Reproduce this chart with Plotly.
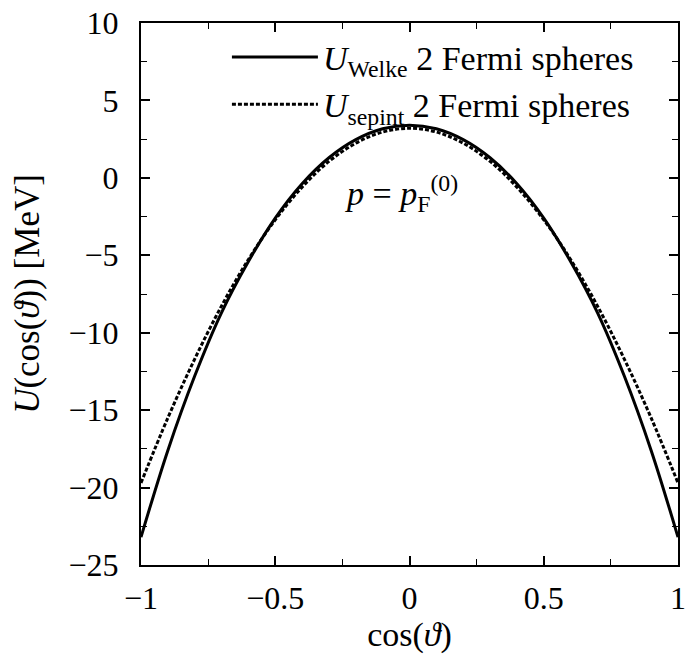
import plotly.graph_objects as go

cos_theta = [-1.0, -0.9, -0.8, -0.7, -0.6, -0.5, -0.4, -0.3, -0.2, -0.1, 0.0,
             0.1, 0.2, 0.3, 0.4, 0.5, 0.6, 0.7, 0.8, 0.9, 1.0]
u_welke = [-23.2, -17.6, -12.8, -8.7, -5.4, -2.6, -0.38, 1.3, 2.47, 3.17, 3.4,
           3.17, 2.47, 1.3, -0.38, -2.6, -5.4, -8.7, -12.8, -17.6, -23.2]
u_sepint = [-19.7, -15.5, -11.7, -8.27, -5.27, -2.71, -0.6, 1.06, 2.24, 2.96, 3.2,
            2.96, 2.24, 1.06, -0.6, -2.71, -5.27, -8.27, -11.7, -15.5, -19.7]

x_ticks = [-1, -0.5, 0, 0.5, 1]
x_ticktext = ["−1", "−0.5", "0", "0.5", "1"]
y_ticks = [10, 5, 0, -5, -10, -15, -20, -25]
y_ticktext = ["10", "5", "0", "−5", "−10", "−15", "−20", "−25"]

FONT = "Liberation Serif"
TICK_SIZE = 32
TEXT_SIZE = 34

fig = go.Figure()
fig.add_trace(go.Scatter(
    x=cos_theta, y=u_welke, mode="lines", line_shape="spline",
    line=dict(color="black", width=3),
    name="<i>U</i><sub>Welke</sub> 2 Fermi spheres"))
fig.add_trace(go.Scatter(
    x=cos_theta, y=u_sepint, mode="lines", line_shape="spline",
    line=dict(color="black", width=3, dash="4px,2px"),
    name="<i>U</i><sub>sepint</sub> 2 Fermi spheres"))

fig.add_annotation(x=-0.03, y=-1.0, xref="x", yref="y", showarrow=False,
                   text="<i>p</i> = <i>p</i><sub>F</sub><sup>(0)</sup>",
                   font=dict(family=FONT, size=TEXT_SIZE, color="black"))

axis_common = dict(
    showgrid=False, zeroline=False, showline=True, linecolor="black",
    linewidth=2, mirror="allticks", ticks="inside", ticklen=9, tickwidth=1.5,
    tickcolor="black", tickfont=dict(family=FONT, size=TICK_SIZE, color="black"),
    automargin=False, ticklabeloverflow="allow",
)

fig.update_xaxes(range=[-1, 1], tickvals=x_ticks, ticktext=x_ticktext,
                 minor=dict(dtick=0.25, tick0=0, ticks="inside", ticklen=6,
                            tickcolor="black", tickwidth=1.2),
                 ticklabelstandoff=4,
                 title=dict(text="cos(<i>ϑ</i>)", font=dict(family=FONT, size=TEXT_SIZE, color="black"),
                            standoff=10),
                 **axis_common)
fig.update_yaxes(range=[-25, 10], tickvals=y_ticks, ticktext=y_ticktext,
                 minor=dict(dtick=2.5, tick0=0, ticks="inside", ticklen=6,
                            tickcolor="black", tickwidth=1.2),
                 ticklabelstandoff=14,
                 title=dict(text="<i>U</i>(cos(<i>ϑ</i>)) [MeV]",
                            font=dict(family=FONT, size=TEXT_SIZE + 1, color="black"), standoff=18),
                 **axis_common)

fig.update_layout(
    width=688, height=654,
    margin=dict(l=141, r=10, t=23, b=89),
    paper_bgcolor="white", plot_bgcolor="white",
    showlegend=True,
    legend=dict(x=0.16, y=0.99, xanchor="left", yanchor="top",
                bgcolor="rgba(0,0,0,0)", borderwidth=0, itemwidth=86,
                tracegroupgap=0,
                font=dict(family=FONT, size=TEXT_SIZE, color="black")),
)

fig.write_html("out.html")
